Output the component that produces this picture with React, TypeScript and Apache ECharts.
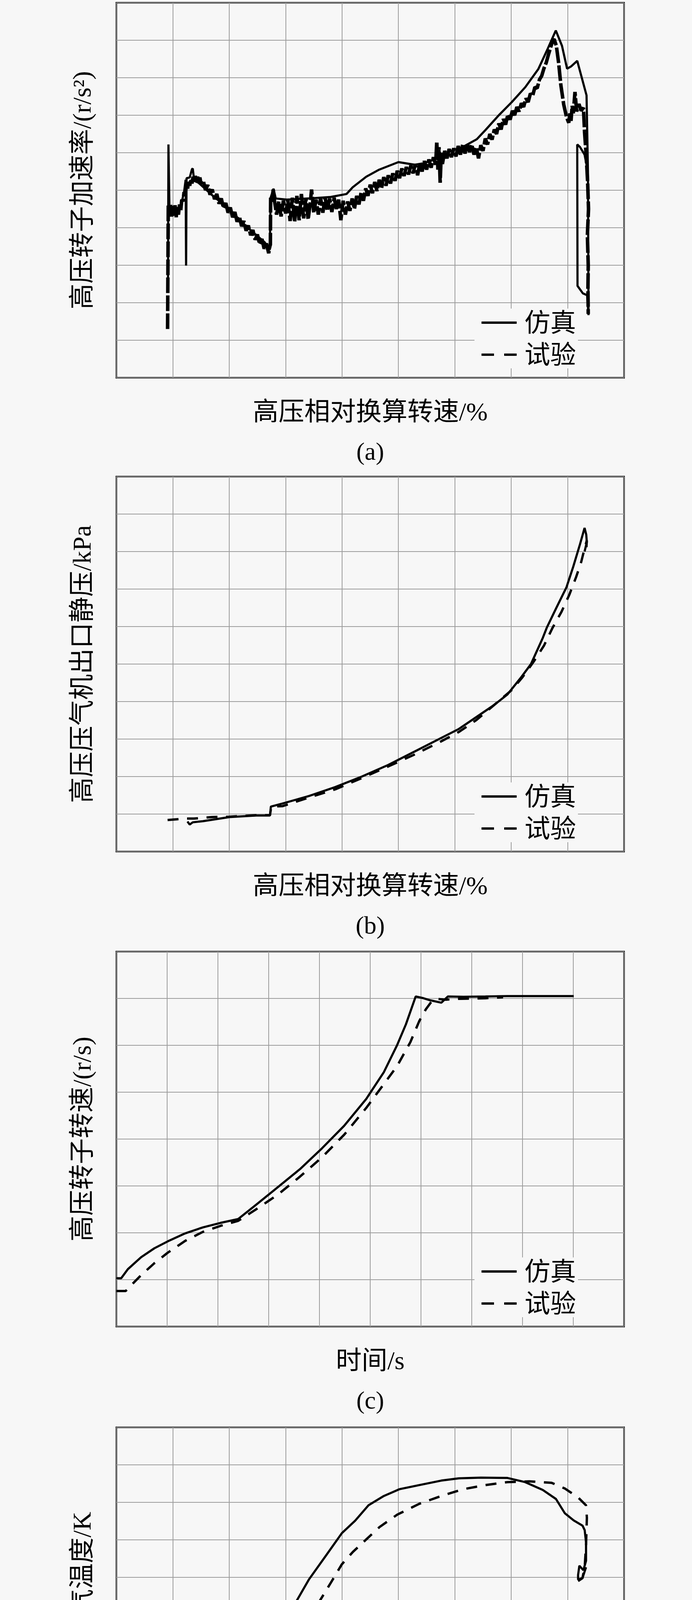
import React, { useEffect, useRef } from "react";
import * as echarts from "echarts";

type P = [number, number];

// ---- text ----
const yTitles = ["高压转子加速率/(r/s²)", "高压压气机出口静压/kPa", "高压转子转速/(r/s)", "发动机排气温度/K"];
const xTitles = ["高压相对换算转速/%", "高压相对换算转速/%", "时间/s", "高压相对换算转速/%"];
const captions = ["(a)", "(b)", "(c)", "(d)"];
const legendNames = ["仿真", "试验"];

// ---- axis extents (grid-cell units, no tick labels in the figure) ----
const xMaxes = [9, 9, 10, 9];
const yMaxes = [10, 10, 8, 10];

// ---- (a) high-pressure rotor acceleration ----
const accelSim: P[] = [
  [0.915, 2.33], [0.923, 6.22], [0.94, 4.57], [0.99, 4.45], [1.06, 4.40], [1.14, 4.57], [1.2, 4.95],
  [1.228, 5.28], [1.236, 2.99], [1.244, 5.32], [1.3, 5.34], [1.34, 5.56], [1.354, 5.58], [1.38, 5.25],
  [1.455, 5.2], [1.69, 4.88], [2.0, 4.49], [2.32, 4.01], [2.63, 3.61], [2.72, 3.41], [2.735, 4.8],
  [2.786, 5.04], [2.825, 4.78], [3.02, 4.75], [3.41, 4.78], [3.8, 4.82], [4.08, 4.9], [4.19, 5.08],
  [4.43, 5.36], [4.66, 5.55], [5.0, 5.75], [5.29, 5.68], [5.45, 5.72], [5.68, 5.84], [5.92, 6.04],
  [6.15, 6.16], [6.39, 6.36], [6.54, 6.6], [6.78, 7.0], [7.01, 7.35], [7.25, 7.75], [7.48, 8.23],
  [7.64, 8.75], [7.79, 9.26], [7.9, 8.85], [7.99, 8.24], [8.06, 8.3], [8.17, 8.45], [8.335, 7.53],
  [8.36, 5.5], [8.37, 1.67], [8.345, 2.2], [8.27, 2.25], [8.175, 2.45], [8.17, 6.22], [8.22, 6.15],
  [8.3, 5.95], [8.345, 5.6],
];
const accelTest: P[] = [
  [0.908, 1.3], [0.92, 4.6],
  [0.94, 4.35], [0.96, 4.62], [0.98, 4.3], [1.0, 4.58], [1.02, 4.32], [1.04, 4.6], [1.06, 4.28], [1.08, 4.55],
  [1.1, 4.35], [1.12, 4.62], [1.14, 4.45], [1.16, 4.75], [1.18, 4.7], [1.2, 4.95],
  [1.22, 4.9], [1.24, 5.1], [1.26, 5.02], [1.28, 5.22], [1.3, 5.12], [1.32, 5.3], [1.34, 5.18], [1.36, 5.36],
  [1.38, 5.22], [1.4, 5.38], [1.42, 5.24], [1.44, 5.36], [1.46, 5.22], [1.48, 5.34], [1.5, 5.18],
  [1.54, 5.26], [1.58, 5.0], [1.62, 5.14], [1.66, 4.88], [1.7, 5.02], [1.74, 4.76], [1.78, 4.9], [1.82, 4.64],
  [1.86, 4.78], [1.9, 4.52], [1.94, 4.66], [1.98, 4.4], [2.02, 4.54], [2.06, 4.28], [2.1, 4.42], [2.14, 4.16],
  [2.18, 4.3], [2.22, 4.04], [2.26, 4.18], [2.3, 3.92], [2.34, 4.06], [2.38, 3.8], [2.42, 3.94], [2.46, 3.68],
  [2.5, 3.82], [2.54, 3.56], [2.58, 3.7], [2.62, 3.44], [2.66, 3.58], [2.7, 3.32], [2.72, 3.5],
  [2.73, 3.55], [2.735, 4.8], [2.76, 4.7], [2.78, 5.02], [2.8, 4.75],
  [2.84, 4.35], [2.88, 4.7], [2.92, 4.3], [2.96, 4.72], [3.0, 4.38], [3.04, 4.75], [3.08, 4.18], [3.12, 4.8],
  [3.16, 4.15], [3.2, 4.85], [3.24, 4.2], [3.28, 4.9], [3.32, 4.25], [3.36, 4.78], [3.4, 4.22], [3.44, 4.7],
  [3.46, 5.02], [3.5, 4.4], [3.54, 4.75], [3.58, 4.35], [3.62, 4.8], [3.66, 4.4], [3.7, 4.82], [3.74, 4.45],
  [3.78, 4.78], [3.82, 4.42], [3.86, 4.8], [3.9, 4.5], [3.94, 4.75], [3.98, 4.2], [4.02, 4.72], [4.06, 4.35],
  [4.1, 4.7],
  [4.14, 4.45], [4.18, 4.78], [4.22, 4.5], [4.26, 4.85], [4.3, 4.62], [4.34, 4.95], [4.38, 4.72], [4.42, 5.05],
  [4.46, 4.85], [4.5, 5.15], [4.54, 4.92], [4.58, 5.22], [4.62, 4.98], [4.66, 5.28], [4.7, 5.05], [4.74, 5.35],
  [4.78, 5.12], [4.82, 5.4], [4.86, 5.18], [4.9, 5.45], [4.94, 5.25], [4.98, 5.52], [5.02, 5.32], [5.06, 5.58],
  [5.1, 5.38], [5.14, 5.62], [5.18, 5.42], [5.22, 5.66], [5.26, 5.45], [5.3, 5.7], [5.34, 5.4], [5.38, 5.72],
  [5.42, 5.5], [5.46, 5.78], [5.5, 5.55], [5.54, 5.82], [5.58, 5.6], [5.62, 5.88], [5.66, 5.68],
  [5.68, 6.3], [5.7, 5.55], [5.72, 6.15], [5.74, 5.2], [5.76, 6.0], [5.78, 5.7],
  [5.82, 6.05], [5.86, 5.85], [5.9, 6.1], [5.94, 5.88], [5.98, 6.12], [6.02, 5.9], [6.06, 6.18], [6.1, 5.95],
  [6.14, 6.22], [6.18, 5.98], [6.22, 6.25], [6.26, 6.02], [6.3, 6.22], [6.34, 5.95], [6.38, 6.15], [6.42, 5.85],
  [6.46, 6.2], [6.5, 6.05],
  [6.54, 6.38], [6.58, 6.22], [6.62, 6.5], [6.66, 6.35], [6.7, 6.62], [6.74, 6.5], [6.78, 6.78], [6.82, 6.62],
  [6.86, 6.9], [6.9, 6.75], [6.94, 7.02], [6.98, 6.88], [7.02, 7.12], [7.06, 7.0], [7.1, 7.22], [7.14, 7.1],
  [7.18, 7.32], [7.22, 7.22], [7.26, 7.45], [7.3, 7.35], [7.34, 7.58], [7.38, 7.52], [7.42, 7.75], [7.46, 7.72],
  [7.5, 7.95], [7.54, 8.05], [7.58, 8.25], [7.62, 8.4], [7.66, 8.62], [7.7, 8.82], [7.74, 9.0], [7.76, 9.03],
  [7.8, 8.85], [7.84, 8.4], [7.88, 7.8], [7.93, 7.29], [7.98, 6.95], [8.02, 6.8], [8.04, 7.05], [8.06, 6.85],
  [8.08, 7.25], [8.1, 7.05], [8.13, 7.62], [8.16, 7.1], [8.2, 7.3], [8.24, 7.12], [8.28, 7.2], [8.3, 6.55],
  [8.33, 5.9], [8.355, 5.2], [8.37, 4.5], [8.35, 3.8], [8.365, 3.0], [8.36, 2.4], [8.365, 1.7],
];

// ---- (b) HP compressor exit static pressure ----
const pressSim: P[] = [
  [1.26, 0.8], [1.3, 0.72], [1.354, 0.78], [1.534, 0.81], [2.003, 0.92], [2.473, 0.96], [2.723, 0.96],
  [2.739, 1.2], [2.942, 1.28], [3.412, 1.48], [3.881, 1.72], [4.351, 2.0], [4.82, 2.31], [5.29, 2.67],
  [5.759, 3.03], [6.072, 3.27], [6.385, 3.59], [6.698, 3.91], [6.933, 4.19], [7.167, 4.63], [7.35, 5.0],
  [7.56, 5.7], [7.63, 5.97], [7.8, 6.5], [7.98, 7.05], [8.1, 7.6], [8.22, 8.2], [8.3, 8.63],
  [8.33, 8.45], [8.34, 8.25], [8.3, 8.0],
];
const pressTest: P[] = [
  [0.908, 0.84], [1.221, 0.88], [1.377, 0.88], [1.69, 0.92], [2.003, 0.93], [2.473, 0.97], [2.723, 0.97],
  [2.746, 1.2], [2.942, 1.21], [3.412, 1.44], [3.881, 1.66], [4.351, 1.96], [4.82, 2.27], [5.29, 2.59],
  [5.759, 2.94], [6.072, 3.19], [6.385, 3.51], [6.698, 3.91], [7.011, 4.31], [7.2, 4.65], [7.4, 5.07],
  [7.58, 5.49], [7.73, 5.96], [7.89, 6.39], [8.03, 6.85], [8.15, 7.32], [8.24, 7.72], [8.29, 8.02],
  [8.34, 8.3], [8.33, 8.05],
];

// ---- (c) HP rotor speed vs time ----
const speedSim: P[] = [
  [0, 1.032], [0.096, 1.032], [0.226, 1.224], [0.487, 1.479], [0.748, 1.67], [1.009, 1.816], [1.357, 1.989],
  [1.704, 2.116], [2.052, 2.212], [2.4, 2.294], [2.748, 2.594], [3.183, 2.976], [3.617, 3.359],
  [4.052, 3.805], [4.487, 4.283], [4.922, 4.857], [5.27, 5.43], [5.53, 6.004], [5.704, 6.45],
  [5.896, 7.042], [6.052, 7.004], [6.183, 6.96], [6.4, 6.909], [6.53, 7.042], [6.835, 7.036],
  [7.27, 7.042], [7.704, 7.049], [9.009, 7.049],
];
const speedTest: P[] = [
  [0, 0.758], [0.183, 0.758], [0.313, 0.905], [0.487, 1.096], [0.748, 1.351], [1.009, 1.574], [1.357, 1.829],
  [1.704, 2.02], [2.052, 2.148], [2.4, 2.256], [2.748, 2.498], [3.183, 2.817], [3.617, 3.199],
  [4.052, 3.614], [4.487, 4.092], [4.922, 4.665], [5.27, 5.175], [5.53, 5.558], [5.791, 6.068],
  [5.965, 6.514], [6.096, 6.769], [6.226, 6.96], [6.313, 6.992], [6.487, 6.973], [6.748, 6.992],
  [7.27, 7.004], [7.617, 7.024],
];

// ---- (d) engine exhaust temperature ----
const tempSim: P[] = [
  [1.21, 2.6], [2.707, 2.6], [2.707, 4.03], [2.864, 4.46], [3.099, 5.12], [3.412, 5.94], [3.725, 6.6],
  [3.998, 7.18], [4.233, 7.51], [4.468, 7.92], [4.742, 8.17], [5.016, 8.35], [5.368, 8.46], [5.759, 8.58],
  [6.072, 8.64], [6.463, 8.66], [6.933, 8.65], [7.246, 8.54], [7.559, 8.33], [7.793, 8.09], [7.95, 7.71],
  [8.106, 7.52], [8.263, 7.38], [8.302, 7.26], [8.326, 6.93], [8.326, 6.44], [8.279, 6.19], [8.208, 6.31],
  [8.185, 6.06], [8.185, 5.94], [8.263, 5.98], [8.326, 6.27],
];
const tempTest: P[] = [
  [0.908, 2.6], [1.221, 2.6], [1.847, 2.6], [2.629, 2.62], [2.762, 2.64], [2.786, 2.85], [2.825, 3.18],
  [2.942, 3.47], [3.099, 4.04], [3.333, 4.62], [3.568, 5.28], [3.803, 5.86], [3.998, 6.35], [4.194, 6.68],
  [4.429, 7.01], [4.664, 7.34], [4.977, 7.67], [5.368, 7.96], [5.759, 8.17], [6.15, 8.35], [6.541, 8.46],
  [6.933, 8.54], [7.324, 8.56], [7.715, 8.52], [7.95, 8.37], [8.185, 8.13], [8.326, 7.92], [8.341, 7.59],
  [8.326, 6.85], [8.302, 6.27], [8.263, 5.98], [8.185, 5.9],
];

const simSets = [accelSim, pressSim, speedSim, tempSim];
const testSets = [accelTest, pressTest, speedTest, tempTest];

const FONT = "'Liberation Serif','Noto Sans CJK SC',serif";
const BG = "#f7f7f7";
const LEFT = 298;
const WIDTH = 1300;
const HEIGHT = 960;
const TOPS = [7, 1220, 2436, 3654];

export default function App() {
  const ref = useRef<HTMLDivElement>(null);
  useEffect(() => {
    document.body.style.margin = "0";
    document.body.style.background = BG;
    if (!ref.current) return;
    const chart = echarts.init(ref.current, undefined, { renderer: "svg" });
    const grid = TOPS.map((top) => ({
      left: LEFT, top, width: WIDTH, height: HEIGHT, show: true,
      borderColor: "#000", borderWidth: 4, backgroundColor: BG,
    }));
    const axisCommon = {
      type: "value" as const,
      interval: 1,
      axisLabel: { show: false },
      axisTick: { show: false },
      axisLine: { show: false },
      splitLine: { show: true, lineStyle: { color: "#9c9c9c", width: 2 } },
    };
    const xAxis = xMaxes.map((mx, i) => ({ ...axisCommon, gridIndex: i, min: 0, max: mx }));
    const yAxis = yMaxes.map((mx, i) => ({ ...axisCommon, gridIndex: i, min: 0, max: mx }));
    const series: any[] = [];
    for (let i = 0; i < 4; i++) {
      series.push({
        type: "line", name: legendNames[0], xAxisIndex: i, yAxisIndex: i, data: simSets[i],
        showSymbol: false, symbol: "none", silent: true,
        lineStyle: { color: "#000", width: 5.5, type: "solid" },
      });
      series.push({
        type: "line", name: legendNames[1], xAxisIndex: i, yAxisIndex: i, data: testSets[i],
        showSymbol: false, symbol: "none", silent: true,
        lineStyle: { color: "#000", width: i === 0 ? 9 : 6, type: i === 0 ? [40, 6] : [28, 22] },
      });
    }
    const graphic: any[] = [];
    TOPS.forEach((top, i) => {
      const B = top + HEIGHT;
      const cy = top + HEIGHT / 2;
      graphic.push({
        type: "text", x: 209, y: cy, rotation: Math.PI / 2,
        style: { text: yTitles[i], fontSize: 66, fontFamily: FONT, fill: "#000", align: "center", verticalAlign: "middle" },
      });
      graphic.push({
        type: "text", x: LEFT + WIDTH / 2, y: B + 86,
        style: { text: xTitles[i], fontSize: 66, fontFamily: FONT, fill: "#000", align: "center", verticalAlign: "middle" },
      });
      graphic.push({
        type: "text", x: LEFT + WIDTH / 2, y: B + 188,
        style: { text: captions[i], fontSize: 64, fontFamily: FONT, fill: "#000", align: "center", verticalAlign: "middle" },
      });
      graphic.push({
        type: "rect", z: 10, shape: { x: 1215, y: B - 177, width: 265, height: 153 },
        style: { fill: BG },
      });
      graphic.push({
        type: "line", z: 11, shape: { x1: 1233, y1: B - 141, x2: 1323, y2: B - 141 },
        style: { stroke: "#000", lineWidth: 6 },
      });
      graphic.push({
        type: "line", z: 11, shape: { x1: 1233, y1: B - 59, x2: 1323, y2: B - 59 },
        style: { stroke: "#000", lineWidth: 6, lineDash: [32, 26] },
      });
      graphic.push({
        type: "text", z: 11, x: 1343, y: B - 141,
        style: { text: legendNames[0], fontSize: 66, fontFamily: FONT, fill: "#000", align: "left", verticalAlign: "middle" },
      });
      graphic.push({
        type: "text", z: 11, x: 1343, y: B - 59,
        style: { text: legendNames[1], fontSize: 66, fontFamily: FONT, fill: "#000", align: "left", verticalAlign: "middle" },
      });
    });
    chart.setOption({
      animation: false,
      backgroundColor: BG,
      grid, xAxis, yAxis, series, graphic,
    });
    return () => chart.dispose();
  }, []);
  return <div ref={ref} style={{ width: 1772, height: 4843, background: BG }} />;
}
